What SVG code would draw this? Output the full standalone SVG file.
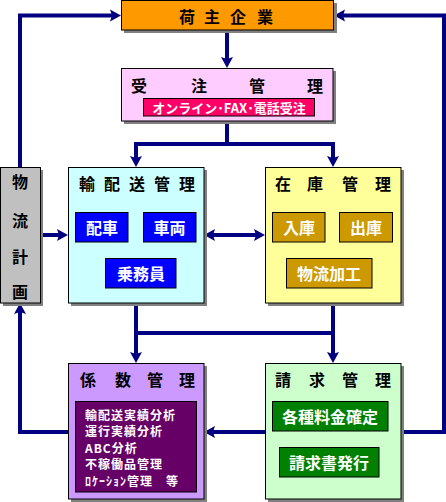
<svg xmlns="http://www.w3.org/2000/svg" width="446" height="502" viewBox="0 0 446 502">
<defs>
<marker id="ah" markerUnits="userSpaceOnUse" markerWidth="14" markerHeight="14" viewBox="0 -7 14 14" refX="7" refY="0" orient="auto-start-reverse">
<path d="M0,-6 L11,0 L0,6 L2,0 z" fill="#000080"/>
</marker>
</defs>
<style>
.sh{fill:#808080}
.bx{stroke:#000;stroke-width:1}
.t{font-family:"Noto Sans CJK JP","Noto Sans CJK SC",sans-serif;font-weight:bold;fill:#000;text-anchor:middle;dominant-baseline:central}
.w{font-family:"Noto Sans CJK JP","Noto Sans CJK SC",sans-serif;font-weight:bold;fill:#fff;text-anchor:middle;dominant-baseline:central}
.c{fill:none;stroke:#000080;stroke-width:4}
.l{font-family:"Noto Sans CJK JP","Noto Sans CJK SC",sans-serif;font-weight:bold;font-size:12px;letter-spacing:1px;fill:#fff}
</style>
<rect width="446" height="502" fill="#fff"/>
<g id="connectors">
<path class="c" d="M20,167 V15.5 H117" marker-end="url(#ah)"/>
<path class="c" d="M227,30 V64" marker-end="url(#ah)"/>
<path class="c" d="M136,163 V144 H333 V163" marker-start="url(#ah)" marker-end="url(#ah)"/>
<path class="c" d="M227,121 V144"/>
<path class="c" d="M40,235 H64" marker-end="url(#ah)"/>
<path class="c" d="M208,235 H261" marker-start="url(#ah)" marker-end="url(#ah)"/>
<path class="c" d="M136,303 V359" marker-end="url(#ah)"/>
<path class="c" d="M333,303 V359" marker-end="url(#ah)"/>
<path class="c" d="M136,333 H333"/>
<path class="c" d="M265,432 H208" marker-end="url(#ah)"/>
<path class="c" d="M68,432 H20 V307" marker-end="url(#ah)"/>
<path class="c" d="M401,432 H444 V15.5 H338" marker-end="url(#ah)"/>
</g>
<g id="ninushi">
<rect class="sh" x="124" y="3" width="213" height="30"/>
<rect class="bx" x="121.5" y="0.5" width="212" height="29.5" fill="#FF9900"/>
<text class="t" font-size="16" x="187 212 238 265" y="16">荷主企業</text>
</g>
<g id="juchu">
<rect class="sh" x="124" y="71" width="212" height="53"/>
<rect class="bx" x="121.5" y="68.5" width="211.5" height="52.5" fill="#FFCCFF"/>
<text class="t" font-size="16" x="139 199 257 315" y="85">受注管理</text>
<rect class="bx" x="143.5" y="98.5" width="171" height="17.5" fill="#FF0066"/>
<text class="w" font-size="13" x="229" y="107.5">オンライン･FAX･電話受注</text>
</g>
<g id="butsuryu">
<rect class="sh" x="3" y="170" width="40" height="136"/>
<rect class="bx" x="0.5" y="167.5" width="40" height="135.5" fill="#C0C0C0"/>
<text class="t" font-size="16" x="20" y="181">物</text>
<text class="t" font-size="16" x="20" y="220">流</text>
<text class="t" font-size="16" x="20" y="256">計</text>
<text class="t" font-size="16" x="20" y="291">画</text>
</g>
<g id="yuhaiso">
<rect class="sh" x="71" y="170" width="136" height="136"/>
<rect class="bx" x="68.5" y="167.5" width="135.5" height="135.5" fill="#CCFFFF"/>
<text class="t" font-size="16" x="87 112 137 162 187" y="183">輸配送管理</text>
<rect class="bx" x="75.5" y="212.5" width="52.5" height="29.5" fill="#0000FF"/>
<text class="w" font-size="16" x="102" y="227">配車</text>
<rect class="bx" x="143.5" y="212.5" width="52.5" height="29.5" fill="#0000FF"/>
<text class="w" font-size="16" x="169.5" y="227">車両</text>
<rect class="bx" x="105.5" y="258.5" width="70.5" height="29.5" fill="#0000FF"/>
<text class="w" font-size="16" x="141" y="273">乗務員</text>
</g>
<g id="zaiko">
<rect class="sh" x="268" y="170" width="136" height="136"/>
<rect class="bx" x="265.5" y="167.5" width="135.5" height="135.5" fill="#FFFF99"/>
<text class="t" font-size="16" x="283 315 350 383" y="183">在庫管理</text>
<rect class="bx" x="272.5" y="212.5" width="52.5" height="29.5" fill="#CC9900"/>
<text class="w" font-size="16" x="299" y="227">入庫</text>
<rect class="bx" x="339.5" y="212.5" width="53" height="29.5" fill="#CC9900"/>
<text class="w" font-size="16" x="366" y="227">出庫</text>
<rect class="bx" x="286.5" y="258.5" width="85.5" height="29.5" fill="#CC9900"/>
<text class="w" font-size="16" x="329" y="273">物流加工</text>
</g>
<g id="keisu">
<rect class="sh" x="71" y="366" width="136" height="136"/>
<rect class="bx" x="68.5" y="363.5" width="135.5" height="135.5" fill="#CC99FF"/>
<text class="t" font-size="16" x="88 123 155 187" y="379">係数管理</text>
<rect class="bx" x="75.5" y="401.5" width="121" height="90.5" fill="#660066"/>
<text class="l" x="85" y="419.5">輸配送実績分析</text>
<text class="l" x="85" y="436">運行実績分析</text>
<text class="l" x="85" y="452.5">ABC分析</text>
<text class="l" x="85" y="469">不稼働品管理</text>
<text class="l" x="85" y="485.5">ﾛｹｰｼｮﾝ管理　等</text>
</g>
<g id="seikyu">
<rect class="sh" x="268" y="366" width="136" height="136"/>
<rect class="bx" x="265.5" y="363.5" width="135.5" height="135.5" fill="#CCFFCC"/>
<text class="t" font-size="16" x="283 317 350 383" y="379">請求管理</text>
<rect class="bx" x="272.5" y="401.5" width="115.5" height="29.5" fill="#008000"/>
<text class="w" font-size="16" x="330" y="416">各種料金確定</text>
<rect class="bx" x="279.5" y="447.5" width="99.5" height="29.5" fill="#008000"/>
<text class="w" font-size="16" x="329" y="462">請求書発行</text>
</g>
</svg>
